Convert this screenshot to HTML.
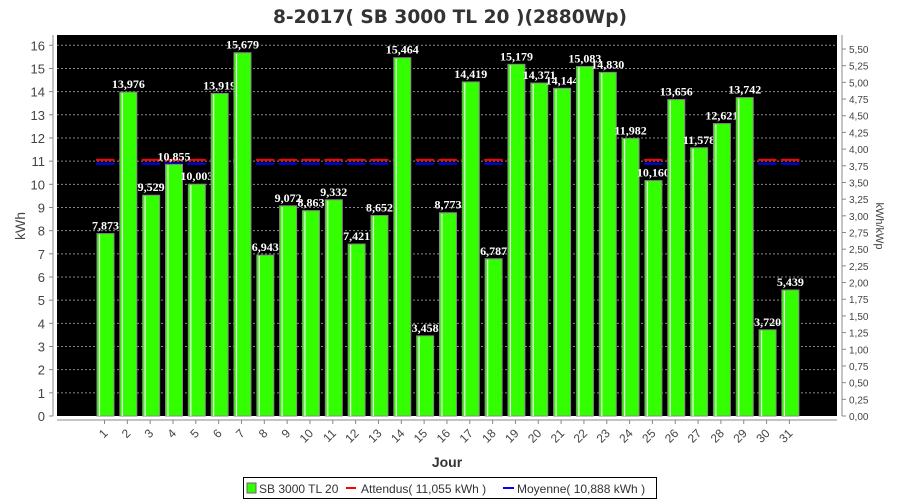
<!DOCTYPE html>
<html><head><meta charset="utf-8"><style>
body{margin:0;background:#fff;width:900px;height:500px;overflow:hidden}
svg{display:block}
</style></head><body>
<svg id="c" width="900" height="500" xmlns="http://www.w3.org/2000/svg" font-family="'Liberation Sans',sans-serif"></svg>
<script>
const v=[7.873,13.976,9.529,10.855,10.003,13.919,15.679,6.943,9.072,8.863,9.332,7.421,8.652,15.464,3.458,8.773,14.419,6.787,15.179,14.371,14.144,15.083,14.830,11.982,10.160,13.656,11.578,12.621,13.742,3.720,5.439];
const L=57,R=837,T=35,B=416,u=(B-45.3)/16;
const y=k=>B-k*u;
let s='';
s+=`<text x="450" y="23" text-anchor="middle" font-family="'DejaVu Sans',sans-serif" font-size="19" font-weight="bold" fill="#333" textLength="354" lengthAdjust="spacingAndGlyphs">8-2017( SB 3000 TL 20 )(2880Wp)</text>`;
s+=`<rect x="${L}" y="${T}" width="${R-L}" height="${B-T}" fill="#000"/>`;
for(let i=0;i<=16;i++){const yy=y(i);
 if(i>0)s+=`<line x1="${L}" x2="${R}" y1="${yy}" y2="${yy}" stroke="#888" stroke-dasharray="2,2" stroke-width="1"/>`;
 s+=`<line x1="49" x2="53" y1="${yy}" y2="${yy}" stroke="#888"/><text x="45" y="${yy+5}" text-anchor="end" font-size="13" fill="#444">${i}</text>`;}
s+=`<line x1="53" x2="53" y1="${T}" y2="${B}" stroke="#888"/>`;
s+=`<line x1="${R+5}" x2="${R+5}" y1="${T}" y2="${B}" stroke="#888"/>`;
for(let i=0;i<=22;i++){const k=i*0.25,yy=y(k*2.88);
 s+=`<line x1="${R+5}" x2="${R+9}" y1="${yy}" y2="${yy}" stroke="#888"/><text x="${R+12}" y="${yy+4}" font-size="10" fill="#444">${k.toFixed(2).replace('.',',')}</text>`;}
s+=`<line x1="${L}" x2="${R}" y1="${B+4}" y2="${B+4}" stroke="#888"/>`;
for(let i=0;i<31;i++){const cx=104.5+22.83*i;
 const ex=y(11.055),mo=y(10.888);
 s+=`<line x1="${cx-8.5}" x2="${cx+10}" y1="${ex}" y2="${ex}" stroke="#f00" stroke-width="2"/>`;
 s+=`<line x1="${cx-8.5}" x2="${cx+10}" y1="${mo}" y2="${mo}" stroke="#00f" stroke-width="2"/>`;}
for(let i=0;i<31;i++){const cx=104.5+22.83*i,x0=cx-7.5,top=y(v[i]);
 s+=`<rect x="${x0}" y="${top}" width="17" height="${B-top}" fill="#3f0" stroke="#888" stroke-width="1"/>`;
 s+=`<line x1="${x0+2.5}" x2="${x0+2.5}" y1="${top+1}" y2="${B}" stroke="#efe" stroke-width="1.2"/>`;
 s+=`<text x="${cx+1}" y="${top-4}" text-anchor="middle" font-family="'Liberation Serif',serif" font-weight="bold" font-size="12" fill="#fff">${v[i].toFixed(3).replace('.',',')}</text>`;
 s+=`<line x1="${cx}" x2="${cx}" y1="${B+4}" y2="${B+8}" stroke="#888"/>`;
 s+=`<text transform="translate(${cx+4},${B+18}) rotate(-45)" text-anchor="end" font-size="12" fill="#444">${i+1}</text>`;}
s+=`<text transform="translate(25,226) rotate(-90)" text-anchor="middle" font-size="14" fill="#444">kWh</text>`;
s+=`<text transform="translate(876,226) rotate(90)" text-anchor="middle" font-size="11" fill="#444">kWh/kWp</text>`;
s+=`<text x="447" y="467" text-anchor="middle" font-size="14" font-weight="bold" fill="#333">Jour</text>`;
s+=`<rect x="243.5" y="477.5" width="413" height="21" fill="#fff" stroke="#000"/>`;
s+=`<rect x="247" y="483" width="9" height="10" fill="#3f0" stroke="#666"/>`;
s+=`<text x="259" y="493" font-size="12" fill="#333">SB 3000 TL 20</text>`;
s+=`<line x1="346" x2="356" y1="488" y2="488" stroke="#f00" stroke-width="2"/>`;
s+=`<text x="361" y="493" font-size="12" fill="#333">Attendus( 11,055 kWh )</text>`;
s+=`<line x1="503" x2="514" y1="488" y2="488" stroke="#00f" stroke-width="2"/>`;
s+=`<text x="517" y="493" font-size="12" fill="#333">Moyenne( 10,888 kWh )</text>`;
document.getElementById('c').innerHTML=s;
</script>
</body></html>
